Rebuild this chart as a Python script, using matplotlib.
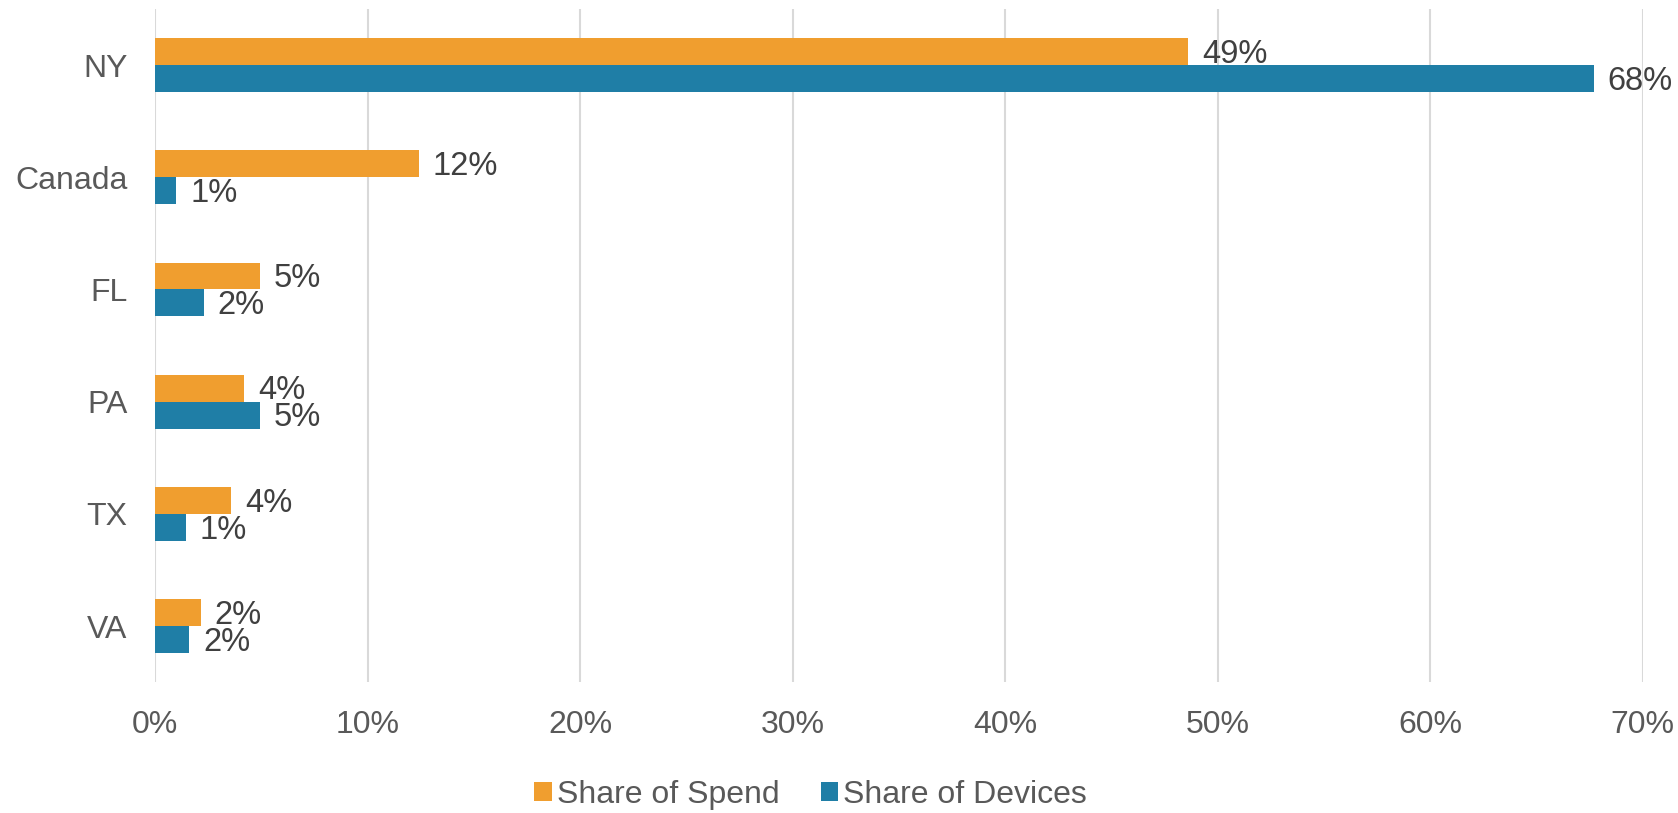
import numpy as np
import matplotlib
matplotlib.use('Agg')
import matplotlib.pyplot as plt
from matplotlib.ticker import FuncFormatter

plt.rcParams['font.family'] = ['Liberation Sans', 'DejaVu Sans']

REGIONS = ['NY', 'Canada', 'FL', 'PA', 'TX', 'VA']
SPEND = [48.6, 12.4, 4.95, 4.2, 3.57, 2.14]
DEVICES = [67.7, 1.0, 2.3, 4.92, 1.45, 1.6]
XTICKS = [0, 10, 20, 30, 40, 50, 60, 70]

ORANGE = '#F09E2F'
BLUE = '#1F7EA6'
GRID = '#D9D9D9'
TICK_TXT = '#595959'
LABEL_TXT = '#404040'

fig = plt.figure(figsize=(16.78, 8.13), dpi=100)
ax = fig.add_axes([0.0924, 0.161, 0.979 - 0.0924, 0.989 - 0.161])

y = np.arange(len(REGIONS))
h = 0.24
b1 = ax.barh(y - h / 2, SPEND, height=h, color=ORANGE, label='Share of Spend', zorder=3)
b2 = ax.barh(y + h / 2, DEVICES, height=h, color=BLUE, label='Share of Devices', zorder=3)

for bars, vals in ((b1, SPEND), (b2, DEVICES)):
    for bar, v in zip(bars, vals):
        ax.annotate(f'{v:.0f}%', (bar.get_width(), bar.get_y() + bar.get_height() / 2),
                    xytext=(10, -2), textcoords='offset points', ha='left', va='center',
                    fontsize=23.5, color=LABEL_TXT)

ax.set_xlim(0, 70)
ax.set_ylim(len(REGIONS) - 0.5, -0.5)
ax.set_xticks(XTICKS)
ax.xaxis.set_major_formatter(FuncFormatter(lambda v, p: f'{v:.0f}%'))
ax.set_yticks(y)
ax.set_yticklabels(REGIONS)
ax.tick_params(axis='both', length=0, labelsize=23, labelcolor=TICK_TXT)
ax.tick_params(axis='x', pad=20)
ax.tick_params(axis='y', pad=20)
ax.grid(axis='x', color=GRID, lw=1.5, zorder=0)
for s in ax.spines.values():
    s.set_visible(False)

fig.legend(handles=[b1, b2], loc='center', bbox_to_anchor=(0.483, 0.022), ncol=2,
           frameon=False, fontsize=23, labelcolor=TICK_TXT, handlelength=0.55,
           handleheight=0.55, handletextpad=0.15, columnspacing=1.3)

fig.savefig('out.png', dpi=100)
